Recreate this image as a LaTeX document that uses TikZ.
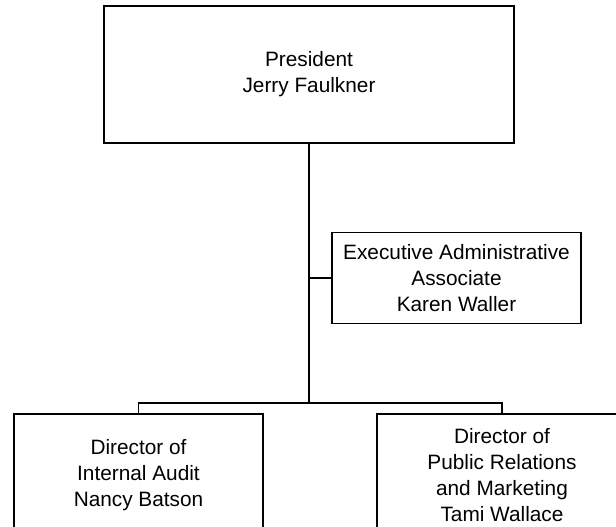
\documentclass[tikz,border=0pt]{standalone}
\usepackage{fontspec}
\setmainfont{Liberation Sans}
\begin{document}
\begin{tikzpicture}[x=1pt,y=-1pt,
  orgbox/.style={draw=black, line width=1.4pt, fill=white, align=center, inner sep=0pt,
    font=\fontsize{20.8}{26}\selectfont},
  link/.style={draw=black, line width=1.8pt}]
\clip (0,0) rectangle (616,527);
\fill[white] (0,0) rectangle (616,527);
\node[orgbox, minimum width=410pt, minimum height=137pt] (pres) at (309,74.5) {President\\Jerry Faulkner};
\node[orgbox, minimum width=249pt, minimum height=91pt] (exec) at (456.5,278) {Executive Administrative\\Associate\\Karen Waller};
\node[orgbox, minimum width=249pt, minimum height=123pt] (audit) at (138.5,475.5) {Director of\\Internal Audit\\Nancy Batson};
\node[orgbox, minimum width=250pt, minimum height=123pt] (pr) at (502,475.5) {Director of\\Public Relations\\and Marketing\\Tami Wallace};
\coordinate (bus) at (309,403);
\draw[link] (pres.south) -- (bus);
\draw[link] (exec.west) -- (exec.west -| pres.south);
\draw[link] (bus) -| (audit.north);
\draw[link] (bus) -| (pr.north);
\end{tikzpicture}
\end{document}
